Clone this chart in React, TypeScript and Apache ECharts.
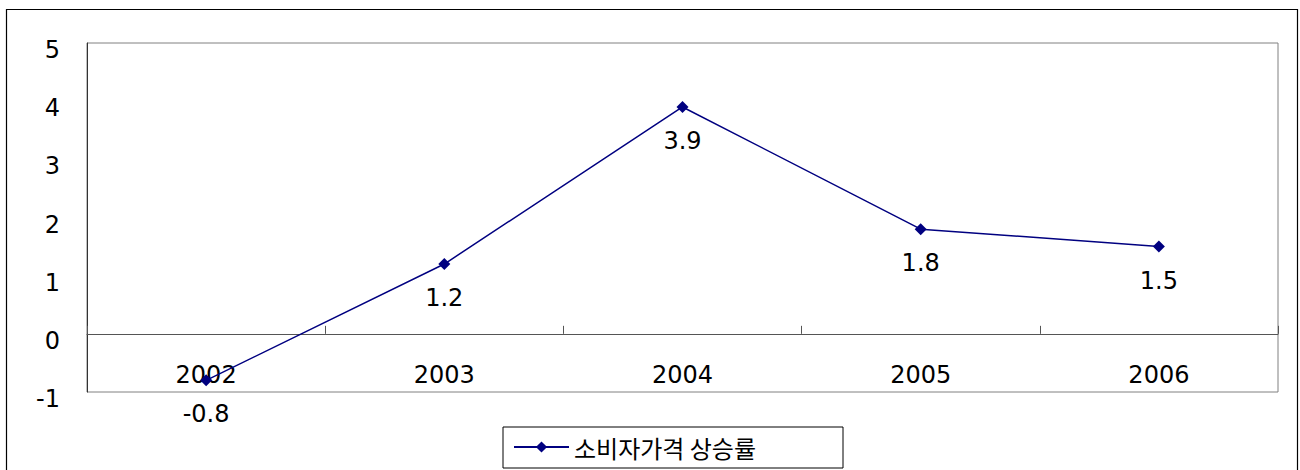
import React, { useEffect, useRef } from "react";
import * as echarts from "echarts";

const categories = ["2002", "2003", "2004", "2005", "2006"];
const values = [-0.8, 1.2, 3.9, 1.8, 1.5];
const seriesName = "소비자가격 상승률";
const yMin = -1;
const yMax = 5;
const yInterval = 1;

const FONT = "'DejaVu Sans', 'Noto Sans CJK KR', sans-serif";

export default function App() {
  const ref = useRef<HTMLDivElement>(null);
  useEffect(() => {
    if (!ref.current) return;
    const chart = echarts.init(ref.current, null, { renderer: "svg" });
    chart.setOption({
      animation: false,
      backgroundColor: "#fff",
      textStyle: { fontFamily: FONT },
      graphic: [
        {
          type: "rect",
          silent: true,
          z: -1,
          shape: { x: 6.5, y: 9.5, width: 1291, height: 480 },
          style: { fill: "none", stroke: "#000", lineWidth: 1.2 },
        },
      ],
      grid: {
        left: 87,
        top: 43,
        right: 22,
        bottom: 78,
        show: true,
        borderColor: "#808080",
        borderWidth: 1,
        backgroundColor: "transparent",
      },
      legend: {
        left: 503,
        top: 427,
        padding: [7, 87, 8, 10],
        borderColor: "#000",
        borderWidth: 1,
        backgroundColor: "#fff",
        itemWidth: 55,
        itemHeight: 14,
        textStyle: {
          fontSize: 24,
          color: "#000",
          fontFamily: "'Noto Sans CJK KR', sans-serif",
          lineHeight: 26,
        },
        data: [seriesName],
      },
      xAxis: {
        type: "category",
        data: categories,
        boundaryGap: true,
        axisLine: { onZero: true, lineStyle: { color: "#555", width: 1 } },
        axisTick: { show: true, inside: true, length: 8, lineStyle: { color: "#555" } },
        axisLabel: { margin: -29, fontSize: 24, color: "#000", fontFamily: FONT },
        splitLine: { show: false },
      },
      yAxis: {
        type: "value",
        min: yMin,
        max: yMax,
        interval: yInterval,
        axisLine: { show: true, lineStyle: { color: "#333", width: 1 } },
        axisTick: { show: false },
        splitLine: { show: false },
        axisLabel: {
          fontSize: 24,
          color: "#000",
          margin: 27,
          verticalAlign: "top",
          lineHeight: 14,
          fontFamily: FONT,
        },
      },
      series: [
        {
          type: "line",
          name: seriesName,
          data: values,
          symbol: "diamond",
          symbolSize: 12,
          lineStyle: { color: "#000080", width: 1.5 },
          itemStyle: { color: "#000080" },
          label: {
            show: true,
            position: "bottom",
            distance: 16,
            fontSize: 24,
            color: "#000",
            fontFamily: FONT,
          },
        },
      ],
    });
    return () => chart.dispose();
  }, []);
  return (
    <div
      ref={ref}
      style={{ position: "fixed", left: 0, top: 0, width: 1300, height: 470 }}
    />
  );
}
